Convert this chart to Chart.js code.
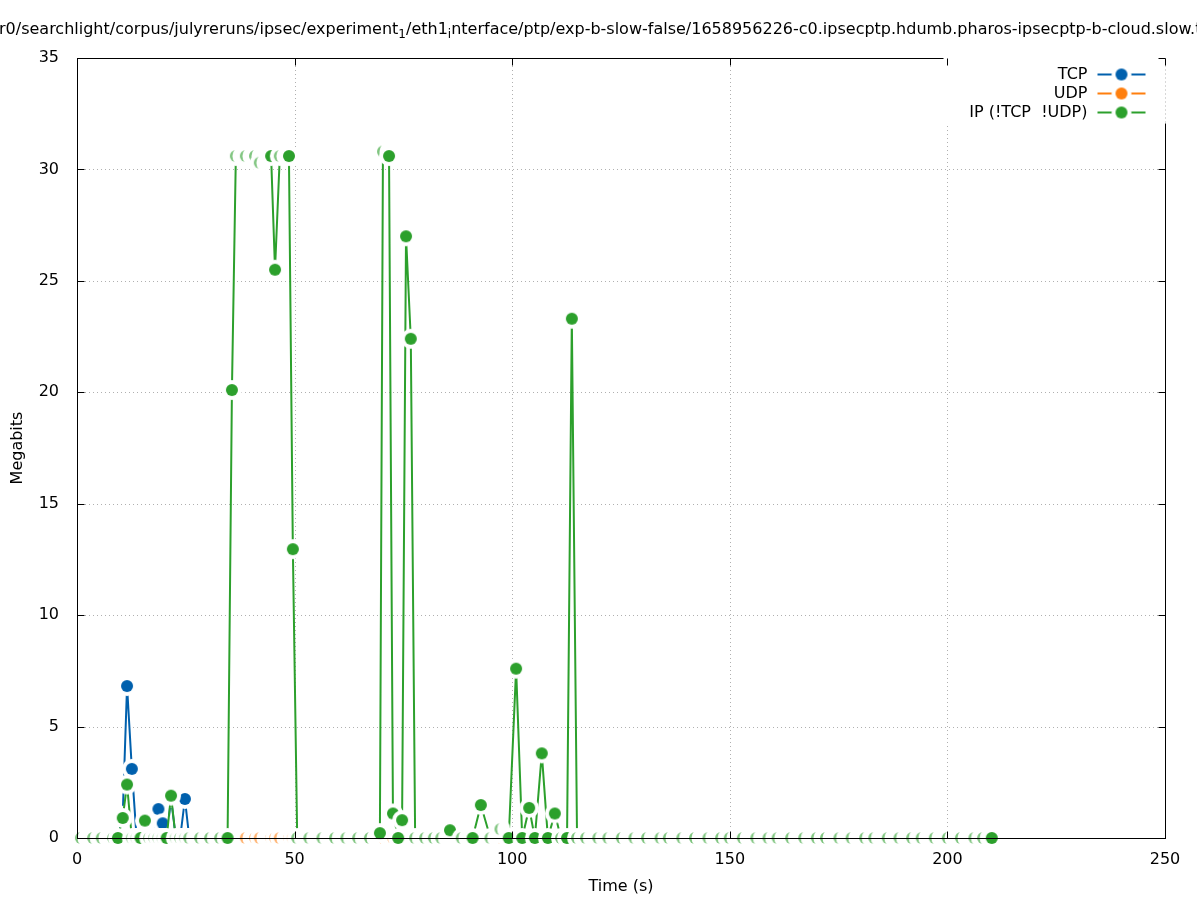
<!DOCTYPE html>
<html><head><meta charset="utf-8">
<script src="https://cdn.jsdelivr.net/npm/chart.js@4.4.1/dist/chart.umd.min.js"></script>
<style>html,body{margin:0;padding:0;background:#fff}#wrap{width:1197px;height:900px;position:relative}</style>
</head><body><div id="wrap"><canvas id="c" width="1197" height="900"></canvas></div>
<script>
// ---------------- data ----------------
const titleParts = [
  ["r0/searchlight/corpus/julyreruns/ipsec/experiment", false], ["1", true],
  ["/eth1", false], ["i", true],
  ["nterface/ptp/exp-b-slow-false/1658956226-c0.ipsecptp.hdumb.pharos-ipsecptp-b-cloud.slow.tcpdump", false]
];
const xTitle = "Time (s)";
const yTitle = "Megabits";
const seriesNames = ["TCP", "UDP", "IP (!TCP  !UDP)"];
const seriesColors = ["#0060ad", "#ff7f0e", "#2ca02c"];
const xTicks = [0, 50, 100, 150, 200, 250];
const yTicks = [0, 5, 10, 15, 20, 25, 30, 35];

const times = [
  0.9, 3.7, 5.7, 8.3, 9.4, 10.5, 11.5, 12.6, 13.7, 14.6,
  15.6, 16.6, 17.7, 18.7, 19.7, 20.6, 21.6, 22.7, 23.7, 24.8,
  25.8, 28.3, 30.6, 32.9, 34.6, 35.6, 36.5, 38.8, 40.9, 42.0,
  44.6, 45.5, 46.6, 48.7, 49.6, 50.6, 53.4, 56.4, 59.3, 61.9,
  64.6, 67.3, 69.6, 70.3, 71.7, 72.6, 73.8, 74.7, 75.6, 76.7,
  77.7, 80.0, 82.0, 83.7, 85.7, 88.4, 90.9, 92.8, 95.0, 97.3,
  99.2, 100.9, 102.3, 103.9, 105.2, 106.8, 108.2, 109.8, 111.2, 112.6,
  113.7, 114.9, 117.0, 119.8, 122.1, 125.2, 128.1, 131.0, 134.1, 136.0,
  139.1, 142.0, 145.1, 148.0, 150.0, 153.0, 156.1, 158.9, 161.0, 164.1,
  167.1, 170.0, 172.1, 175.2, 178.0, 181.1, 183.2, 186.3, 189.0, 191.9,
  194.1, 197.1, 200.1, 203.1, 206.2, 208.2, 210.2
];
const tcpValues = [
  0, 0, 0, 0, 0, 1.0, 6.82, 3.1, 0, 0,
  0, 0, 0, 1.3, 0.66, 0, 1.8, 0, 0, 1.75,
  0, 0, 0, 0, 0, 0, 0, 0, 0, 0,
  0, 0, 0, 0, 0, 0, 0, 0, 0, 0,
  0, 0, 0, 0, 0, 0, 0, 0, 0, 0,
  0, 0, 0, 0, 0, 0, 0, 0, 0, 0,
  0, 0, 0, 0, 0, 0, 0, 0, 0, 0,
  0, 0, 0, 0, 0, 0, 0, 0, 0, 0,
  0, 0, 0, 0, 0, 0, 0, 0, 0, 0,
  0, 0, 0, 0, 0, 0, 0, 0, 0, 0,
  0, 0, 0, 0, 0, 0, 0
];
const udpValues = [
  0, 0, 0, 0, 0, 0, 0, 0, 0, 0,
  0, 0, 0, 0, 0, 0, 0, 0, 0, 0,
  0, 0, 0, 0, 0, 0, 0, 0, 0, 0,
  0, 0, 0, 0, 0, 0, 0, 0, 0, 0,
  0, 0, 0, 0, 0, 0, 0, 0, 0, 0,
  0, 0, 0, 0, 0, 0, 0, 0, 0, 0,
  0, 0, 0, 0, 0, 0, 0, 0, 0, 0,
  0, 0, 0, 0, 0, 0, 0, 0, 0, 0,
  0, 0, 0, 0, 0, 0, 0, 0, 0, 0,
  0, 0, 0, 0, 0, 0, 0, 0, 0, 0,
  0, 0, 0, 0, 0, 0, 0
];
const ipValues = [
  0, 0, 0, 0, 0, 0.9, 2.4, 0, 0, 0,
  0.78, 0, 0, 0, 0, 0, 1.9, 0, 0, 0,
  0, 0, 0, 0, 0, 20.1, 30.6, 30.6, 30.6, 30.3,
  30.6, 25.5, 30.6, 30.6, 12.96, 0, 0, 0, 0, 0,
  0, 0, 0.22, 30.8, 30.6, 1.1, 0, 0.8, 27.0, 22.4,
  0, 0, 0, 0, 0.35, 0, 0, 1.48, 0, 0.4,
  0, 7.6, 0, 1.35, 0, 3.8, 0, 1.1, 0, 0,
  23.3, 0, 0, 0, 0, 0, 0, 0, 0, 0,
  0, 0, 0, 0, 0, 0, 0, 0, 0, 0,
  0, 0, 0, 0, 0, 0, 0, 0, 0, 0,
  0, 0, 0, 0, 0, 0, 0
];
const seriesValues = [tcpValues, udpValues, ipValues];

// ---------------- styling ----------------
const FONT = "'DejaVu Sans', sans-serif";
const FS = 16;
const R_W = 10;   // white blanking disc around each point
const R_C = 6;    // coloured point radius

function makeMarker(color, crescent) {
  const size = 2 * R_W + 4, m = size / 2;
  const c = document.createElement('canvas'); c.width = c.height = size;
  const g = c.getContext('2d');
  g.fillStyle = '#fff'; g.beginPath(); g.arc(m, m, R_W, 0, 2 * Math.PI); g.fill();
  const t = document.createElement('canvas'); t.width = t.height = size;
  const h = t.getContext('2d');
  h.fillStyle = color; h.beginPath(); h.arc(m, m, R_C, 0, 2 * Math.PI); h.fill();
  if (crescent) {
    h.globalCompositeOperation = 'destination-out';
    h.beginPath(); h.arc(m + 6.5, m, 10, 0, 2 * Math.PI); h.fill();
    g.globalAlpha = 0.6;
  }
  g.drawImage(t, 0, 0);
  return c;
}
const markers = seriesColors.map(col => ({ full: makeMarker(col, false), cres: makeMarker(col, true) }));

function pointStyleFor(k) {
  return (ctx) => {
    const i = ctx.dataIndex;
    const vals = seriesValues[k];
    if (i >= times.length - 1) return markers[k].full;
    const sx = ctx.chart.scales.x, sy = ctx.chart.scales.y;
    const dx = sx.getPixelForValue(times[i + 1]) - sx.getPixelForValue(times[i]);
    const dy = sy.getPixelForValue(vals[i + 1]) - sy.getPixelForValue(vals[i]);
    return Math.hypot(dx, dy) < 14 ? markers[k].cres : markers[k].full;
  };
}

const datasets = seriesNames.map((name, k) => ({
  label: name,
  data: times.map((t, i) => ({ x: t, y: seriesValues[k][i] })),
  borderColor: seriesColors[k],
  backgroundColor: seriesColors[k],
  borderWidth: 2,
  pointRadius: 6,
  pointHoverRadius: 6,
  pointStyle: pointStyleFor(k),
  tension: 0,
  clip: false,
  order: 3 - k
}));

const frame = {
  id: 'frame',
  beforeDatasetsDraw(chart) {
    const { ctx, chartArea: a, scales: { x, y } } = chart;
    ctx.save();
    ctx.strokeStyle = '#b0b0b0'; ctx.lineWidth = 1; ctx.setLineDash([1, 3]);
    xTicks.forEach(v => {
      if (v === xTicks[0] || v === xTicks[xTicks.length - 1]) return;
      const px = Math.round(x.getPixelForValue(v)) + 0.5;
      ctx.beginPath(); ctx.moveTo(px, a.top); ctx.lineTo(px, a.bottom); ctx.stroke();
    });
    yTicks.forEach(v => {
      if (v === yTicks[0] || v === yTicks[yTicks.length - 1]) return;
      const py = Math.round(y.getPixelForValue(v)) + 0.5;
      ctx.beginPath(); ctx.moveTo(a.left, py); ctx.lineTo(a.right, py); ctx.stroke();
    });
    ctx.restore();
  },
  afterDatasetsDraw(chart) {
    const { ctx, chartArea: a, scales: { x, y } } = chart;
    const L = Math.round(a.left) + 0.5, R = Math.round(a.right) + 0.5;
    const T = Math.round(a.top) + 0.5, B = Math.round(a.bottom) + 0.5;
    ctx.save();
    ctx.strokeStyle = '#000'; ctx.lineWidth = 1; ctx.setLineDash([]);
    ctx.strokeRect(L, T, R - L, B - T);
    // key box (opaque)
    const keyLeft = R - 222, keyBottom = T + 65;
    ctx.fillStyle = '#fff';
    ctx.fillRect(keyLeft, T - 1, R - keyLeft + 1, keyBottom - T + 1);
    ctx.strokeStyle = '#b0b0b0'; ctx.setLineDash([1, 3]);
    ctx.beginPath(); ctx.moveTo(R, T + 3); ctx.lineTo(R, keyBottom); ctx.stroke();
    ctx.setLineDash([]);
    // ticks (inward, mirrored)
    ctx.strokeStyle = '#000';
    const TL = 7;
    ctx.beginPath();
    xTicks.forEach(v => {
      const px = Math.round(x.getPixelForValue(v)) + 0.5;
      ctx.moveTo(px, B); ctx.lineTo(px, B - TL);
      ctx.moveTo(px, T); ctx.lineTo(px, T + TL);
    });
    yTicks.forEach(v => {
      const py = Math.round(y.getPixelForValue(v)) + 0.5;
      ctx.moveTo(L, py); ctx.lineTo(L + TL, py);
      ctx.moveTo(R, py); ctx.lineTo(R - TL, py);
    });
    ctx.stroke();
    // key entries
    ctx.font = FS + 'px ' + FONT;
    ctx.textAlign = 'right'; ctx.textBaseline = 'middle';
    seriesNames.forEach((name, k) => {
      const ry = T + 16 + k * 19;
      ctx.fillStyle = '#000';
      ctx.fillText(name, R - 78, ry);
      const x0 = R - 68, x1 = R - 20, xc = (x0 + x1) / 2;
      ctx.strokeStyle = seriesColors[k]; ctx.lineWidth = 2;
      ctx.beginPath(); ctx.moveTo(x0, ry); ctx.lineTo(x1, ry); ctx.stroke();
      ctx.drawImage(markers[k].full, xc - markers[k].full.width / 2, ry - markers[k].full.height / 2);
    });
    ctx.restore();
  },
  afterDraw(chart) {
    const { ctx } = chart;
    ctx.save();
    ctx.fillStyle = '#000'; ctx.textAlign = 'left'; ctx.textBaseline = 'middle';
    let cx = -1;
    titleParts.forEach(([txt, sub]) => {
      ctx.font = (sub ? 12 : FS) + 'px ' + FONT;
      ctx.fillText(txt, cx, sub ? 35 : 30);
      cx += ctx.measureText(txt).width;
    });
    ctx.restore();
  }
};

new Chart(document.getElementById('c'), {
  type: 'line',
  data: { datasets },
  options: {
    responsive: false,
    animation: false,
    devicePixelRatio: 1,
    layout: { padding: { top: 58, right: 32, left: 0, bottom: 0 } },
    plugins: { legend: { display: false }, title: { display: false }, tooltip: { enabled: false } },
    events: [],
    scales: {
      x: {
        type: 'linear', min: xTicks[0], max: xTicks[xTicks.length - 1],
        grid: { display: false }, border: { display: false },
        afterBuildTicks: s => { s.ticks = xTicks.map(v => ({ value: v })); },
        afterFit: s => { s.height = 62; },
        ticks: { font: { family: FONT, size: FS }, color: '#000', padding: 4, maxRotation: 0, autoSkip: false },
        title: { display: true, text: xTitle, font: { family: FONT, size: FS }, color: '#000', padding: { top: 0, bottom: 4 } }
      },
      y: {
        type: 'linear', min: yTicks[0], max: yTicks[yTicks.length - 1],
        grid: { display: false }, border: { display: false },
        afterBuildTicks: s => { s.ticks = yTicks.map(v => ({ value: v })); },
        afterFit: s => { s.width = 77; },
        ticks: { font: { family: FONT, size: FS }, color: '#000', padding: 10, autoSkip: false },
        title: { display: true, text: yTitle, font: { family: FONT, size: FS }, color: '#000', padding: { top: 8, bottom: 0 } }
      }
    }
  },
  plugins: [frame]
});
</script>
</body></html>
